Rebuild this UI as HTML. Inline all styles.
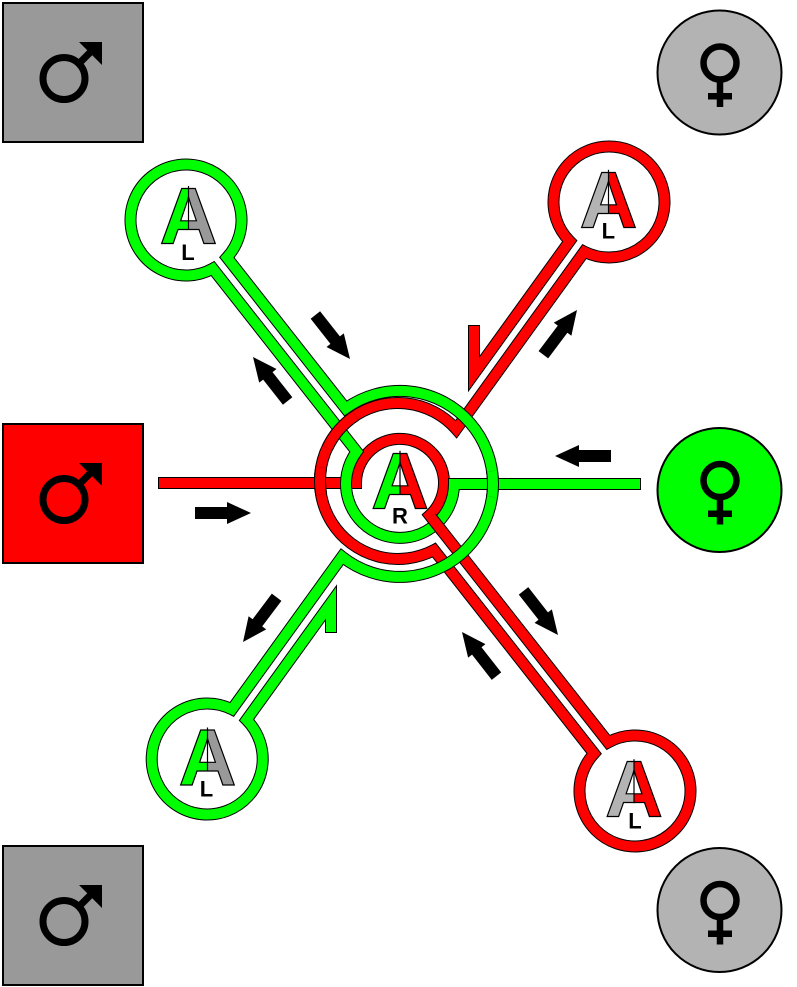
<!DOCTYPE html>
<html><head><meta charset="utf-8"><style>html,body{margin:0;padding:0;background:#fff}svg{display:block}</style></head>
<body>
<svg xmlns="http://www.w3.org/2000/svg" width="797" height="987" viewBox="0 0 797 987">
<defs>
<clipPath id="c1l" clipPathUnits="userSpaceOnUse"><rect x="148.5" y="173.5" width="40" height="80"/></clipPath>
<clipPath id="c1r" clipPathUnits="userSpaceOnUse"><rect x="188.5" y="173.5" width="40" height="80"/></clipPath>
<clipPath id="c2l" clipPathUnits="userSpaceOnUse"><rect x="568.5" y="157.3" width="40" height="80"/></clipPath>
<clipPath id="c2r" clipPathUnits="userSpaceOnUse"><rect x="608.5" y="157.3" width="40" height="80"/></clipPath>
<clipPath id="c3l" clipPathUnits="userSpaceOnUse"><rect x="167.5" y="715" width="40" height="80"/></clipPath>
<clipPath id="c3r" clipPathUnits="userSpaceOnUse"><rect x="207.5" y="715" width="40" height="80"/></clipPath>
<clipPath id="c4l" clipPathUnits="userSpaceOnUse"><rect x="594" y="746.7" width="40" height="80"/></clipPath>
<clipPath id="c4r" clipPathUnits="userSpaceOnUse"><rect x="634" y="746.7" width="40" height="80"/></clipPath>
<clipPath id="c5l" clipPathUnits="userSpaceOnUse"><rect x="360" y="438.3" width="40" height="80"/></clipPath>
<clipPath id="c5r" clipPathUnits="userSpaceOnUse"><rect x="400" y="438.3" width="40" height="80"/></clipPath>
</defs>
<rect width="797" height="987" fill="#fff"/>

<!-- squares with male symbols -->
<rect x="3" y="3" width="140" height="139" fill="#999999" stroke="#000" stroke-width="2"/>
<rect x="3" y="424" width="140" height="139" fill="#ff0000" stroke="#000" stroke-width="2"/>
<rect x="3" y="846" width="140" height="139" fill="#999999" stroke="#000" stroke-width="2"/>
<g id="male">
  <circle cx="64" cy="78.5" r="21" fill="none" stroke="#000" stroke-width="7"/>
  <line x1="78" y1="64.5" x2="92" y2="50.5" stroke="#000" stroke-width="7"/>
  <polygon points="79,42 102,42 102,65" fill="#000"/>
</g>
<g transform="translate(0,421)">
  <circle cx="64" cy="78.5" r="21" fill="none" stroke="#000" stroke-width="7"/>
  <line x1="78" y1="64.5" x2="92" y2="50.5" stroke="#000" stroke-width="7"/>
  <polygon points="79,42 102,42 102,65" fill="#000"/>
</g>
<g transform="translate(0,843)">
  <circle cx="64" cy="78.5" r="21" fill="none" stroke="#000" stroke-width="7"/>
  <line x1="78" y1="64.5" x2="92" y2="50.5" stroke="#000" stroke-width="7"/>
  <polygon points="79,42 102,42 102,65" fill="#000"/>
</g>

<!-- circles with female symbols -->
<circle cx="719.5" cy="72.5" r="62" fill="#b3b3b3" stroke="#000" stroke-width="2"/>
<circle cx="719.5" cy="490" r="62" fill="#00ff00" stroke="#000" stroke-width="2"/>
<circle cx="719.5" cy="910" r="62" fill="#b3b3b3" stroke="#000" stroke-width="2"/>
<g>
  <circle cx="720" cy="63" r="16.5" fill="none" stroke="#000" stroke-width="6.5"/>
  <rect x="716.75" y="78" width="6.5" height="29" fill="#000"/>
  <rect x="708" y="93" width="24" height="6.5" fill="#000"/>
</g>
<g transform="translate(0,417.5)">
  <circle cx="720" cy="63" r="16.5" fill="none" stroke="#000" stroke-width="6.5"/>
  <rect x="716.75" y="78" width="6.5" height="29" fill="#000"/>
  <rect x="708" y="93" width="24" height="6.5" fill="#000"/>
</g>
<g transform="translate(0,837.5)">
  <circle cx="720" cy="63" r="16.5" fill="none" stroke="#000" stroke-width="6.5"/>
  <rect x="716.75" y="78" width="6.5" height="29" fill="#000"/>
  <rect x="708" y="93" width="24" height="6.5" fill="#000"/>
</g>

<!-- red strand -->
<g fill="none" stroke-linejoin="miter" stroke-miterlimit="10" stroke-linecap="square">
<path d="M164,483 L356,483 A44,44 0 1,1 429.67,515.35 L608.22,742.39 A55.5,55.5 0 1,1 594.08,753.51 L434.06,550.05 A78,78 0 1,1 456.2,429.2 L584.26,251.69 A55.5,55.5 0 1,0 569.66,241.15 L474,373.77 L474,331" stroke="#000" stroke-width="12"/>
<path d="M164,483 L356,483 A44,44 0 1,1 429.67,515.35 L608.22,742.39 A55.5,55.5 0 1,1 594.08,753.51 L434.06,550.05 A78,78 0 1,1 456.2,429.2 L584.26,251.69 A55.5,55.5 0 1,0 569.66,241.15 L474,373.77 L474,331" stroke="#ff0000" stroke-width="10"/>
</g>

<!-- green strand -->
<g fill="none" stroke-linejoin="miter" stroke-miterlimit="10" stroke-linecap="square">
<path d="M635,484 L454,484 A54,54 0 1,1 356.67,451.62 L212.78,268.61 A55.5,55.5 0 1,1 226.92,257.49 L345.6,408.45 A93,93 0 1,1 342.04,556.71 L231.94,709.31 A55.5,55.5 0 1,0 246.54,719.85 L331,602.8 L331,627" stroke="#000" stroke-width="12"/>
<path d="M635,484 L454,484 A54,54 0 1,1 356.67,451.62 L212.78,268.61 A55.5,55.5 0 1,1 226.92,257.49 L345.6,408.45 A93,93 0 1,1 342.04,556.71 L231.94,709.31 A55.5,55.5 0 1,0 246.54,719.85 L331,602.8 L331,627" stroke="#00ff00" stroke-width="10"/>
</g>

<!-- over-crossings -->
<g fill="none" stroke-linecap="butt">
<path d="M327.31,448.04 A78,78 0 0,1 355.52,415.58" stroke="#000" stroke-width="12"/>
<path d="M327.31,448.04 A78,78 0 0,1 355.52,415.58" stroke="#ff0000" stroke-width="10"/>
<path d="M321.19,494.54 A78,78 0 0,1 321.19,467.46" stroke="#000" stroke-width="12"/>
<path d="M321.19,494.54 A78,78 0 0,1 321.19,467.46" stroke="#ff0000" stroke-width="10"/>
<path d="M431,517.05 L442.12,531.2" stroke="#000" stroke-width="12"/>
<path d="M431,517.05 L442.12,531.2" stroke="#ff0000" stroke-width="10"/>
<path d="M492.1,471.06 A93,93 0 0,1 492.1,496.94" stroke="#000" stroke-width="12"/>
<path d="M492.1,471.06 A93,93 0 0,1 492.1,496.94" stroke="#00ff00" stroke-width="10"/>
</g>

<!-- black block arrows -->
<g fill="#000">
<polygon transform="translate(555,456) rotate(180)" points="0,0 -24,-11 -24,-6 -56,-6 -56,6 -24,6 -24,11"/>
<polygon transform="translate(251,513) rotate(0)" points="0,0 -24,-11 -24,-6 -56,-6 -56,6 -24,6 -24,11"/>
<polygon transform="translate(350,359) rotate(51.8)" points="0,0 -24,-11 -24,-6 -56,-6 -56,6 -24,6 -24,11"/>
<polygon transform="translate(253,357) rotate(231.8)" points="0,0 -24,-11 -24,-6 -56,-6 -56,6 -24,6 -24,11"/>
<polygon transform="translate(577,310) rotate(-53.1)" points="0,0 -24,-11 -24,-6 -56,-6 -56,6 -24,6 -24,11"/>
<polygon transform="translate(243,642) rotate(126.9)" points="0,0 -24,-11 -24,-6 -56,-6 -56,6 -24,6 -24,11"/>
<polygon transform="translate(558,635) rotate(52)" points="0,0 -24,-11 -24,-6 -56,-6 -56,6 -24,6 -24,11"/>
<polygon transform="translate(462,632) rotate(232)" points="0,0 -24,-11 -24,-6 -56,-6 -56,6 -24,6 -24,11"/>
</g>

<!-- split A letters -->
<g font-family="'Liberation Sans', sans-serif" font-weight="bold" font-size="80" text-anchor="middle" stroke="#000" stroke-width="1.2">
<text x="188.5" y="243.5" fill="#00ff00" clip-path="url(#c1l)">A</text>
<text x="188.5" y="243.5" fill="#999999" clip-path="url(#c1r)">A</text>
<text x="608.5" y="227.3" fill="#b3b3b3" clip-path="url(#c2l)">A</text>
<text x="608.5" y="227.3" fill="#ff0000" clip-path="url(#c2r)">A</text>
<text x="207.5" y="785" fill="#00ff00" clip-path="url(#c3l)">A</text>
<text x="207.5" y="785" fill="#999999" clip-path="url(#c3r)">A</text>
<text x="634" y="816.7" fill="#b3b3b3" clip-path="url(#c4l)">A</text>
<text x="634" y="816.7" fill="#ff0000" clip-path="url(#c4r)">A</text>
<text x="400" y="508.3" fill="#00ff00" clip-path="url(#c5l)">A</text>
<text x="400" y="508.3" fill="#ff0000" clip-path="url(#c5r)">A</text>
</g>
<g stroke="#000" stroke-width="1.2">
<line x1="188.5" y1="186" x2="188.5" y2="230"/>
<line x1="608.5" y1="169.8" x2="608.5" y2="213.8"/>
<line x1="207.5" y1="727.5" x2="207.5" y2="771.5"/>
<line x1="634" y1="759.2" x2="634" y2="803.2"/>
<line x1="400" y1="450.8" x2="400" y2="494.8"/>
</g>
<g font-family="'Liberation Sans', sans-serif" font-weight="bold" font-size="22" text-anchor="middle" fill="#000">
<text x="188" y="260">L</text>
<text x="608.3" y="238.3">L</text>
<text x="206.5" y="796.7">L</text>
<text x="635" y="828.3">L</text>
<text x="400" y="523.3">R</text>
</g>
</svg>
</body></html>
